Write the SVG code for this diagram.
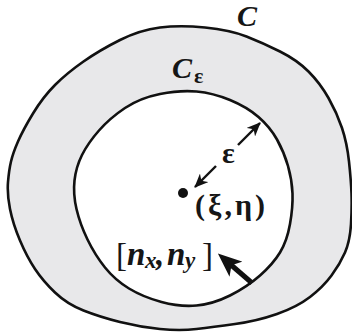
<svg xmlns="http://www.w3.org/2000/svg" width="352" height="334" viewBox="0 0 352 334">
  <style>
    .curve { stroke: #111; stroke-width: 2.6; stroke-linejoin: round; }
    .ring { fill: #e8e8ea; }
    .hole { fill: #ffffff; }
    text { font-family: 'Liberation Serif', 'DejaVu Serif', serif; fill: #161616; }
    .it { font-style: italic; font-weight: bold; }
    .gr { font-weight: bold; }
    .thin { stroke: #111; stroke-width: 2.4; fill: none; }
    .bold { stroke: #111; stroke-width: 5; fill: none; }
  </style>
  <defs>
    <marker id="headThin" viewBox="0 0 14 12" refX="13" refY="6" markerWidth="14" markerHeight="12" markerUnits="userSpaceOnUse" orient="auto">
      <path d="M0,0 L14,6 L0,12 L4,6 Z" fill="#111"/>
    </marker>
    <marker id="headBold" viewBox="0 0 24 20" refX="8" refY="10" markerWidth="24" markerHeight="20" markerUnits="userSpaceOnUse" orient="auto">
      <path d="M0,0 L24,10 L0,20 L6,10 Z" fill="#111"/>
    </marker>
  </defs>

  <g id="node-C">
    <path class="curve ring" d="M 160,27.5 Q 180,25 205,27.5 Q 230,30 246.5,36.5 Q 263,43 280,51.5 Q 297,60 308.5,71.5 Q 320,83 328.5,98 Q 337,113 342,128 Q 347,143 349,161.5 Q 351,180 351.5,193.5 Q 352,207 351,224 Q 350,241 345,252.5 Q 340,264 331.5,275.5 Q 323,287 310,297 Q 297,307 277,314 Q 257,321 235,324 Q 213,327 196.5,329 Q 180,331 160,329 Q 140,327 120,322 Q 100,317 83.5,310.5 Q 67,304 55,292.5 Q 43,281 35,269 Q 27,257 20,240.5 Q 13,224 10,209 Q 7,194 8,182 Q 9,170 11,161.5 Q 13,153 18,141.5 Q 23,130 33,113.5 Q 43,97 55,85 Q 67,73 83.5,61.5 Q 100,50 120,40 Q 140,30 160,27.5 Z"/>
    <text class="it" x="237" y="26" font-size="30">C</text>
  </g>

  <g id="node-Ceps">
    <path class="curve hole" d="M 160,94 Q 180,90 196.5,91.5 Q 213,93 230,100 Q 247,107 258.5,117 Q 270,127 277,139.5 Q 284,152 288,166 Q 292,180 292.5,193.5 Q 293,207 290,224 Q 287,241 280,252.5 Q 273,264 260,275.5 Q 247,287 230,295.5 Q 213,304 196.5,305.5 Q 180,307 161.5,302 Q 143,297 129,288.5 Q 115,280 105,267.5 Q 95,255 87.5,239.5 Q 80,224 76.5,209 Q 73,194 74.5,180.5 Q 76,167 82,155 Q 88,143 99,130.5 Q 110,118 125,108 Q 140,98 160,94 Z"/>
    <text class="it" x="172" y="78" font-size="30">C</text>
    <text class="gr" x="194" y="83" font-size="22">ε</text>
  </g>

  <g id="node-point">
    <circle cx="183" cy="193" r="5" fill="#111"/>
    <text class="gr" x="195" y="215" font-size="30" textLength="70" lengthAdjust="spacing">(ξ,η)</text>
  </g>

  <g id="connectors">
    <line class="thin" x1="238" y1="145" x2="260" y2="123" marker-end="url(#headThin)"/>
    <line class="thin" x1="216" y1="166" x2="195" y2="187" marker-end="url(#headThin)"/>
    <text class="gr" x="222" y="163" font-size="30">ε</text>
    <line class="bold" x1="252" y1="283" x2="230" y2="264" marker-end="url(#headBold)"/>
    <text font-size="33"><tspan x="116" y="266">[</tspan><tspan class="it" x="127" y="265">n</tspan><tspan class="it" x="145" y="268" font-size="23">x</tspan><tspan class="it" x="156" y="265">,</tspan><tspan class="it" x="167" y="265">n</tspan><tspan class="it" x="185" y="268" font-size="23">y</tspan><tspan x="202" y="266">]</tspan></text>
  </g>
</svg>
